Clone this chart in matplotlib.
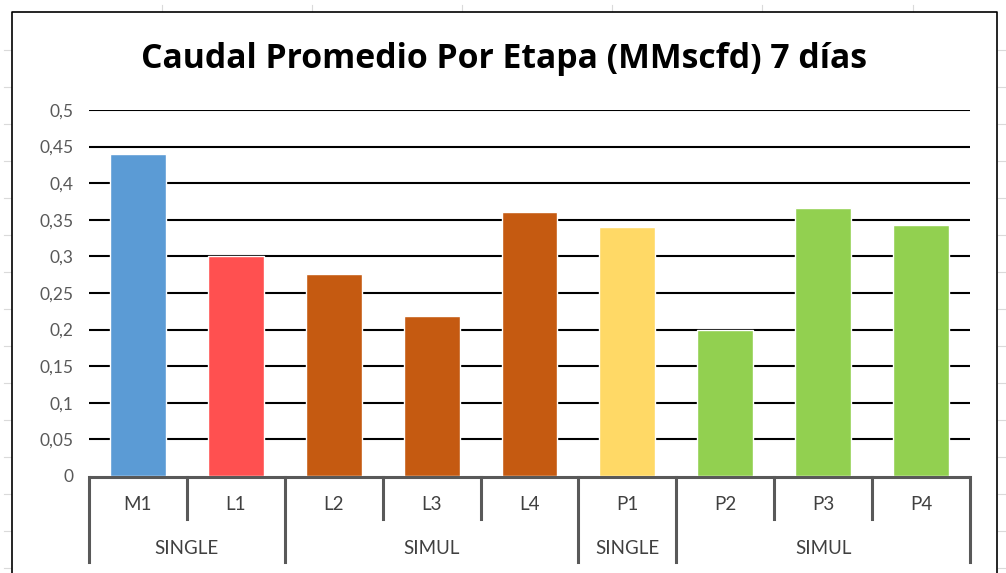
import matplotlib
matplotlib.use("Agg")
import matplotlib.pyplot as plt
import matplotlib.transforms as mtransforms
from matplotlib.lines import Line2D

plt.rcParams['font.family'] = ['Lato', 'DejaVu Sans']

# caudal promedio por etapa
etapas = ['M1', 'L1', 'L2', 'L3', 'L4', 'P1', 'P2', 'P3', 'P4']
caudal = [0.44, 0.30, 0.276, 0.219, 0.361, 0.340, 0.199, 0.366, 0.343]
colores = ['#5B9BD5', '#FF5050', '#C55A11', '#C55A11', '#C55A11',
           '#FFD966', '#92D050', '#92D050', '#92D050']
grupos = ['SINGLE', 'SIMUL', 'SINGLE', 'SIMUL']
grupo_tam = [2, 3, 1, 3]
yticks = [0, 0.05, 0.1, 0.15, 0.2, 0.25, 0.3, 0.35, 0.4, 0.45, 0.5]

W, H = 1006, 573
fig = plt.figure(figsize=(W / 100, H / 100), dpi=100)

def fy(py):
    return 1 - py / H

def fx(px):
    return px / W

# fondo de la hoja: lineas de celdas
for py in [50, 87, 124, 161, 198, 235, 272, 309, 346, 383, 420, 457, 494, 531, 568]:
    fig.add_artist(Line2D([fx(4), fx(11)], [fy(py)] * 2, color='#DADADA', lw=0.8))
    fig.add_artist(Line2D([fx(998), 1], [fy(py)] * 2, color='#DADADA', lw=0.8))
for px in [162, 312, 462, 612, 762, 913]:
    fig.add_artist(Line2D([fx(px)] * 2, [fy(5), fy(11)], color='#DADADA', lw=0.8))

# marco del grafico
fig.add_artist(Line2D([fx(12), fx(12), fx(997), fx(997)],
                      [0, fy(12), fy(12), 0], color='black', lw=1.2))

ax = fig.add_axes([fx(89), fy(476), fx(970) - fx(89), fy(110) - fy(476)])
x = list(range(len(etapas)))
ax.bar(x, caudal, width=0.57, color=colores, edgecolor='white', linewidth=1, zorder=3)
ax.set_xlim(-0.5, len(etapas) - 0.5)
ax.set_ylim(0, 0.5)
ax.set_yticks(yticks)
ax.set_yticklabels([f'{v:g}'.replace('.', ',') for v in yticks],
                   fontsize=12.5, color='#595959')
ax.tick_params(axis='y', length=0, pad=11)
ax.set_xticks([])
for v in yticks[1:]:
    ax.axhline(v, color='black', lw=1.5, zorder=1)
for s in ax.spines.values():
    s.set_visible(False)

# eje de categorias con dos niveles
tr = mtransforms.blended_transform_factory(ax.transData, fig.transFigure)
ax.add_line(Line2D([-0.5, len(etapas) - 0.5], [fy(477)] * 2, transform=tr,
                   color='#595959', lw=2.2, clip_on=False, solid_capstyle='butt'))
limites = [-0.5]
for n in grupo_tam:
    limites.append(limites[-1] + n)
for b in [i - 0.5 for i in range(len(etapas) + 1)]:
    bajo = 562 if b in limites else 519
    ax.add_line(Line2D([b, b], [fy(477), fy(bajo)], transform=tr,
                       color='#595959', lw=2.2, clip_on=False))
for i, e in enumerate(etapas):
    ax.text(i, fy(505), e, transform=tr, ha='center', va='center',
            fontsize=13.5, color='#404040')
for g, a, b in zip(grupos, limites[:-1], limites[1:]):
    ax.text((a + b) / 2, fy(548), g, transform=tr, ha='center', va='center',
            fontsize=13.5, color='#404040')

fig.text(fx(504), fy(59), 'Caudal Promedio Por Etapa (MMscfd) 7 días',
         ha='center', va='center', fontsize=24.3, fontweight='bold', color='black',
         family=['Open Sans', 'DejaVu Sans'])

fig.savefig('out.png', dpi=100)
